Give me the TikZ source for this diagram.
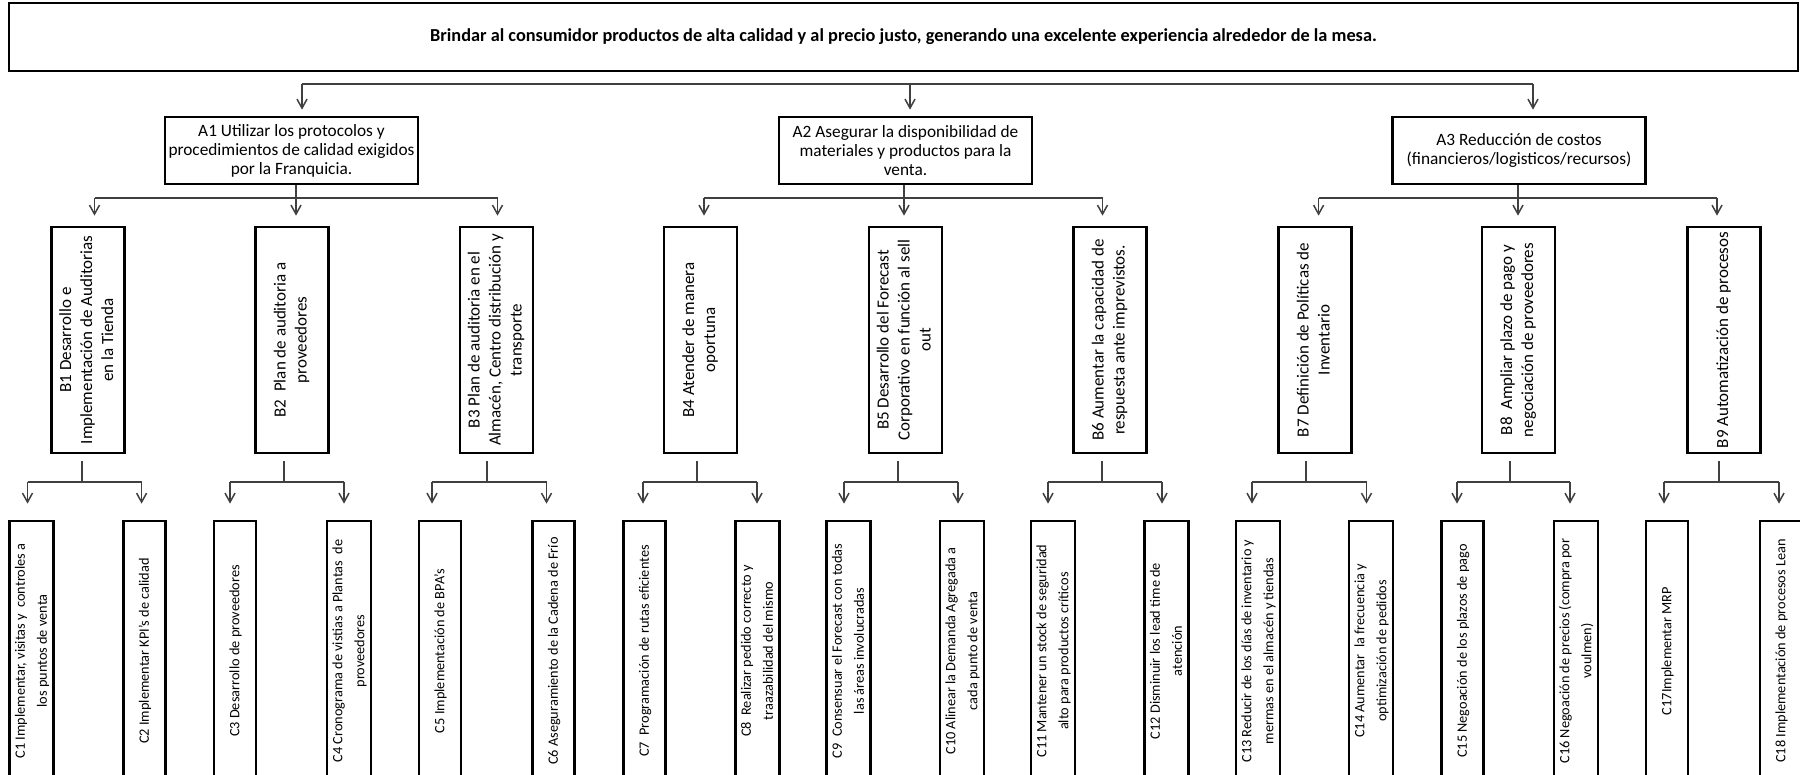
\documentclass[tikz,border=0pt]{standalone}
\usepackage{fontspec}
\setmainfont{Carlito}
\usepackage{graphicx}
\usetikzlibrary{arrows.meta}

% rotated, centred multi-line label: size, line skip, lines
\newcommand{\vlabel}[3]{\rotatebox{90}{\fontsize{#1}{#2}\selectfont\begin{tabular}{@{}c@{}}#3\end{tabular}}}
\newcommand{\btext}[1]{\vlabel{17}{21}{#1}}
\newcommand{\ctext}[1]{\vlabel{14.3}{22}{#1}}

\tikzset{
  box/.style={draw=black, line width=2.7pt, inner sep=0pt, fill=white},
  goalbox/.style={box, line width=1.6pt, minimum width=1789, minimum height=68},
  abox/.style={box, minimum width=253, minimum height=67, align=center,
               font=\fontsize{17.3}{19}\selectfont},
  bbox/.style={box, minimum width=73, minimum height=226},
  cbox/.style={box, minimum width=42, minimum height=260},
  conn/.style={draw=black!75, line width=1.5pt},
  arr/.style={conn, -{Straight Barb[length=9pt,width=10pt]}},
}

\begin{document}
\begin{tikzpicture}[x=1pt,y=-1pt]
\useasboundingbox (0,0) rectangle (1800,775);
\fill[white] (0,0) rectangle (1800,775);
\clip (0,0) rectangle (1800,775);

% goal
\node[goalbox] (G) at (903.5,37)
  {\fontsize{18.3}{21}\selectfont\bfseries Brindar al consumidor productos de alta calidad y al precio justo, generando una excelente experiencia alrededor de la mesa.};

% level A
\node[abox] (A1) at (291.5,150.5) {A1 Utilizar los protocolos y\\procedimientos de calidad exigidos\\por la Franquicia.};
\node[abox] (A2) at (905.5,150.5) {A2 Asegurar la disponibilidad de\\materiales y productos para la\\venta.};
\node[abox] (A3) at (1519,150.5) {A3 Reducción de costos\\(financieros/logisticos/recursos)};

% level B
\node[bbox] (B1) at (88,340)     {\btext{B1 Desarrollo e\\Implementación de Auditorias\\en la Tienda}};
\node[bbox] (B2) at (292,340)    {\btext{B2\ \ Plan de auditoria a\\proveedores}};
\node[bbox] (B3) at (496.5,340)  {\btext{B3 Plan de auditoria en el\\Almacén, Centro distribución y\\transporte}};
\node[bbox] (B4) at (700.5,340)  {\btext{B4 Atender de manera\\oportuna}};
\node[bbox] (B5) at (905.5,340)  {\btext{B5 Desarrollo del Forecast\\Corporativo en función al sell\\out}};
\node[bbox] (B6) at (1110,340)   {\btext{B6 Aumentar la capacidad de\\respuesta ante imprevistos.}};
\node[bbox] (B7) at (1315,340)   {\btext{B7 Definición de Políticas de\\Inventario}};
\node[bbox] (B8) at (1518.5,340) {\btext{B8\ \ Ampliar plazo de pago y\\negociación de proveedores}};
\node[bbox] (B9) at (1724,340)   {\btext{B9 Automatización de procesos}};

% level C
\node[cbox] (C1)  at (31.5,651)  {\ctext{C1 Implementar, visitas y\ \ controles a\\los puntos de venta}};
\node[cbox] (C2)  at (144.5,651) {\ctext{C2 Implementar KPI's de calidad}};
\node[cbox] (C3)  at (235,651)   {\ctext{C3 Desarrollo de proveedores}};
\node[cbox] (C4)  at (349,651)   {\ctext{C4 Cronograma de vistias a Plantas\ \ de\\proveedores}};
\node[cbox] (C5)  at (440,651)   {\ctext{C5 Implementación de BPA's}};
\node[cbox] (C6)  at (553.5,651) {\ctext{C6 Aseguramiento de la Cadena de Frío}};
\node[cbox] (C7)  at (644.5,651) {\ctext{C7\ \ Programación de rutas eficientes}};
\node[cbox] (C8)  at (757.5,651) {\ctext{C8\ \ Realizar pedido correcto y\\traazabilidad del mismo}};
\node[cbox] (C9)  at (848.5,651) {\ctext{C9\ \ Consensuar el Forecast con todas\\las áreas involucradas}};
\node[cbox] (C10) at (962,651)   {\ctext{C10 Alinear la Demanda Agregada a\\cada punto de venta}};
\node[cbox] (C11) at (1053,651)  {\ctext{C11 Mantener un stock de seguridad\\alto para productos críticos}};
\node[cbox] (C12) at (1166.5,651){\ctext{C12 Disminuir los lead time de\\atención}};
\node[cbox] (C13) at (1258,651)  {\ctext{C13 Reducir de los días de inventario y\\mermas en el almacén y tiendas}};
\node[cbox] (C14) at (1371,651)  {\ctext{C14 Aumentar\ \ la frecuencia y\\optimización de pedidos}};
\node[cbox] (C15) at (1462.5,651){\ctext{C15 Negoación de los plazos de pago}};
\node[cbox] (C16) at (1576,651)  {\ctext{C16 Negoación de precios (compra por\\voulmen)}};
\node[cbox] (C17) at (1667,651)  {\ctext{C17Implementar MRP}};
\node[cbox] (C18) at (1781,651)  {\ctext{C18 Implementación de procesos Lean}};

% goal to level A
\coordinate (t1) at (302,84);
\coordinate (t2) at (910,84);
\coordinate (t3) at (1533,84);
\draw[conn] (t1) -- (t3);
\foreach \i in {1,2,3}
  \draw[arr, shorten >=6pt] (t\i) -- (t\i |- A\i.north);

% level A to level B
\foreach \a/\m/\l/\r/\bl/\bm/\br in
  {1/296/94.5/497.5/1/2/3, 2/904/704/1102.5/4/5/6, 3/1518/1318.6/1717/7/8/9} {
  \coordinate (am\a) at (\m,198);
  \coordinate (al\a) at (\l,198);
  \coordinate (ar\a) at (\r,198);
  \draw[conn] (al\a) -- (ar\a);
  \draw[arr, shorten >=10pt] (A\a.south -| am\a) -- (am\a |- B\bm.north);
  \draw[arr, shorten >=10pt] (al\a) -- (al\a |- B\bl.north);
  \draw[arr, shorten >=10pt] (ar\a) -- (ar\a |- B\br.north);
}

% level B to level C
\foreach \b/\s/\l/\r/\cl/\cr in
  {1/82/27.5/141.6/1/2, 2/284/230/344/3/4, 3/487/432/546.5/5/6,
   4/697/643/757/7/8, 5/898/844/958/9/10, 6/1102/1048/1162/11/12,
   7/1306/1252/1366.5/13/14, 8/1510/1457/1570/15/16, 9/1719/1664/1779/17/18} {
  \coordinate (bs\b) at (\s,482);
  \coordinate (bl\b) at (\l,482);
  \coordinate (br\b) at (\r,482);
  \draw[conn] (B\b.south -| bs\b) ++(0,7) -- (bs\b);
  \draw[conn] (bl\b) -- (br\b);
  \draw[arr, shorten >=16pt] (bl\b) -- (bl\b |- C\cl.north);
  \draw[arr, shorten >=16pt] (br\b) -- (br\b |- C\cr.north);
}
\end{tikzpicture}
\end{document}
